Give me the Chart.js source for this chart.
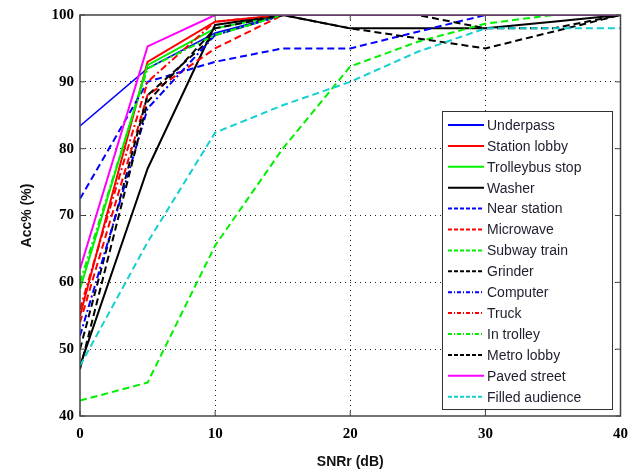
<!DOCTYPE html>
<html>
<head>
<meta charset="utf-8">
<script src="https://cdn.jsdelivr.net/npm/chart.js@4.4.1/dist/chart.umd.min.js"></script>
<style>
  html, body { margin: 0; padding: 0; background: #fff; }
  #wrap { width: 637px; height: 475px; }
</style>
</head>
<body>
<div id="wrap"><canvas id="myChart" width="637" height="475"></canvas></div>
<script>
// SNRr values (dB)
const snr = [0, 5, 10, 15, 20, 25, 30, 35, 40];

// accuracy per noise type (%)
const underpass      = [83.4, 92, 97.3, 100, 100, 100, 100, 100, 100];
const stationLobby   = [55, 93, 99, 100, 100, 100, 100, 100, 100];
const trolleybusStop = [59, 92.5, 98, 100, 100, 100, 100, 100, 100];
const washer         = [47.5, 77, 98.5, 100, 98, 98, 98, 99, 100];
const nearStation    = [72.5, 90, 93, 95, 95, 97.5, 100, 100, 100];
const microwave      = [54, 88, 95, 100, 100, 100, 100, 100, 100];
const subwayTrain    = [42.3, 45, 65.5, 80, 92.3, 96, 98.7, 100, 100];
const grinder        = [50, 88, 97, 100, 98, 96.5, 95, 97.5, 100];
const computer       = [52, 86, 97, 100, 100, 100, 100, 100, 100];
const truck          = [56, 90, 99, 100, 100, 100, 100, 100, 100];
const inTrolley      = [60, 92, 97, 100, 100, 100, 100, 100, 100];
const metroLobby     = [47, 87, 98, 100, 100, 100, 98, 98, 100];
const pavedStreet    = [62, 95.3, 100, 100, 100, 100, 100, 100, 100];
const filledAudience = [47.5, 66, 82.4, 86.5, 90, 94.5, 98, 98, 98];

const xTicks = [0, 10, 20, 30, 40];
const yTicks = [40, 50, 60, 70, 80, 90, 100];

const SOLID = [];
const DASH = [7, 4];
const DASHDOT = [7, 3, 2, 3];

const series = [
    ['Underpass', underpass, '#0000ff', SOLID, 1.5],
    ['Station lobby', stationLobby, '#ff0000', SOLID, 2],
    ['Trolleybus stop', trolleybusStop, '#00f000', SOLID, 2],
    ['Washer', washer, '#000000', SOLID, 2],
    ['Near station', nearStation, '#0000ff', DASH, 2],
    ['Microwave', microwave, '#ff0000', DASH, 2],
    ['Subway train', subwayTrain, '#00f000', DASH, 2],
    ['Grinder', grinder, '#000000', DASH, 2],
    ['Computer', computer, '#0000ff', DASHDOT, 2],
    ['Truck', truck, '#ff0000', DASHDOT, 2],
    ['In trolley', inTrolley, '#00f000', DASHDOT, 2],
    ['Metro lobby', metroLobby, '#000000', DASH, 2],
    ['Paved street', pavedStreet, '#ff00ff', SOLID, 2],
    ['Filled audience', filledAudience, '#16d0d0', DASH, 2]
];

const datasets = series.map(function (s, i) {
    return {
        label: s[0],
        data: snr.map(function (x, j) { return {x: x, y: s[1][j]}; }),
        borderColor: s[2],
        backgroundColor: s[2],
        borderDash: s[3],
        borderWidth: s[4],
        pointRadius: 0,
        tension: 0,
        order: series.length - i
    };
});

// box around plot + inward ticks
const frame = {
    id: 'frame',
    afterDatasetsDraw(chart) {
        const a = chart.chartArea;
        const ctx = chart.ctx;
        const xs = chart.scales.x, ys = chart.scales.y;
        ctx.save();
        ctx.strokeStyle = '#444';
        ctx.lineWidth = 1.5;
        ctx.setLineDash([]);
        ctx.strokeRect(a.left, a.top, a.right - a.left, a.bottom - a.top);
        ctx.lineWidth = 1;
        xTicks.forEach(function (v) {
            const p = xs.getPixelForValue(v);
            ctx.beginPath();
            ctx.moveTo(p, a.bottom); ctx.lineTo(p, a.bottom - 5);
            ctx.moveTo(p, a.top); ctx.lineTo(p, a.top + 5);
            ctx.stroke();
        });
        yTicks.forEach(function (v) {
            const p = ys.getPixelForValue(v);
            ctx.beginPath();
            ctx.moveTo(a.left, p); ctx.lineTo(a.left + 5, p);
            ctx.moveTo(a.right, p); ctx.lineTo(a.right - 5, p);
            ctx.stroke();
        });
        ctx.restore();
    }
};

// MATLAB-like legend box inside plot
const boxLegend = {
    id: 'boxLegend',
    afterDraw(chart) {
        const ctx = chart.ctx;
        const x0 = 442, y0 = 111, w = 170, h = 298;
        ctx.save();
        ctx.fillStyle = '#fff';
        ctx.fillRect(x0, y0, w, h);
        ctx.strokeStyle = '#333';
        ctx.lineWidth = 1;
        ctx.setLineDash([]);
        ctx.strokeRect(x0 + 0.5, y0 + 0.5, w, h);
        ctx.font = '14px "Liberation Sans", Arial, sans-serif';
        ctx.textBaseline = 'middle';
        chart.data.datasets.forEach(function (ds, i) {
            const y = 125 + i * 20.9;
            ctx.beginPath();
            ctx.strokeStyle = ds.borderColor;
            ctx.lineWidth = 2;
            ctx.setLineDash(ds.borderDash.length ? [4, 2] : []);
            if (ds.borderDash.length === 4) ctx.setLineDash([4, 2, 1, 2]);
            ctx.moveTo(448, y);
            ctx.lineTo(484, y);
            ctx.stroke();
            ctx.fillStyle = '#1e1e2e';
            ctx.fillText(ds.label, 487, y + 1);
        });
        ctx.restore();
    }
};

const tickFont = {family: '"Liberation Serif", "Times New Roman", serif', size: 15, weight: 'bold'};
const titleFont = {family: '"Liberation Sans", Arial, sans-serif', size: 14, weight: 'bold'};

const edgeGrid = function (c) {
    return (c.tick && (c.index === 0 || c.index === c.chart.scales[c.scale.id].ticks.length - 1)) ? 'rgba(0,0,0,0)' : '#222';
};

new Chart(document.getElementById('myChart'), {
    type: 'line',
    data: {datasets: datasets},
    plugins: [frame, boxLegend],
    options: {
        responsive: false,
        animation: false,
        layout: {padding: {top: 11, right: 16, left: 15, bottom: 0}},
        plugins: {legend: {display: false}, tooltip: {enabled: false}},
        scales: {
            x: {
                type: 'linear',
                min: 0, max: 40,
                afterBuildTicks(s) { s.ticks = xTicks.map(function (v) { return {value: v}; }); },
                afterFit(s) { s.height = 59; },
                ticks: {color: '#000', font: tickFont, padding: 9, maxRotation: 0},
                grid: {color: edgeGrid, lineWidth: 1, drawTicks: false, tickLength: 0},
                border: {display: false, dash: [1, 4]},
                title: {display: true, text: 'SNRr (dB)', color: '#111', font: titleFont, padding: {top: 6}}
            },
            y: {
                type: 'linear',
                min: 40, max: 100,
                afterBuildTicks(s) { s.ticks = yTicks.map(function (v) { return {value: v}; }); },
                afterFit(s) { s.width = 65; },
                ticks: {color: '#000', font: tickFont, padding: 6},
                grid: {color: edgeGrid, lineWidth: 1, drawTicks: false, tickLength: 0},
                border: {display: false, dash: [1, 4]},
                title: {display: true, text: 'Acc% (%)', color: '#111', font: titleFont, padding: {bottom: 8}}
            }
        }
    }
});
</script>
</body>
</html>
